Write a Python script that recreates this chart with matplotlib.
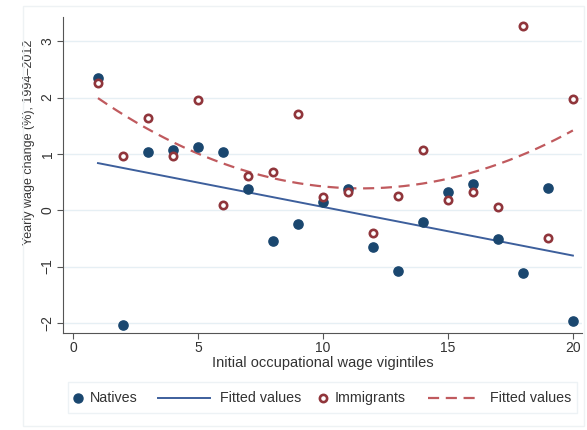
import numpy as np
import matplotlib
matplotlib.use("Agg")
import matplotlib.pyplot as plt
from matplotlib.lines import Line2D
from matplotlib.patches import Rectangle

plt.rcParams['font.family'] = ['Liberation Sans', 'DejaVu Sans']

# vigintiles and yearly wage change (%)
vigintile = np.arange(1, 21)
natives = [2.35, -2.04, 1.04, 1.07, 1.12, 1.03, 0.37, -0.55, -0.24, 0.14,
           0.37, -0.65, -1.08, -0.21, 0.32, 0.46, -0.51, -1.12, 0.40, -1.97]
immigrants = [2.26, 0.97, 1.64, 0.97, 1.96, 0.09, 0.60, 0.67, 1.70, 0.23,
              0.33, -0.41, 0.25, 1.07, 0.18, 0.33, 0.05, 3.27, -0.50, 1.97]
legend_labels = ['Natives', 'Fitted values', 'Immigrants', 'Fitted values']

navy = '#1a476f'
maroon = '#90353b'
navy_line = '#3d5f9c'
maroon_line = '#c05a5e'
txt = '#333333'

# fitted values (linear for natives, quadratic for immigrants)
xs = np.linspace(1, 20, 200)
fit_nat = np.polyval(np.polyfit(vigintile, natives, 1), xs)
fit_imm = np.polyval(np.polyfit(vigintile, immigrants, 2), xs)

fig = plt.figure(figsize=(5.87, 4.30), dpi=100)
fig.patches.append(Rectangle((0.04, 0.01), 0.955, 0.975, transform=fig.transFigure,
                             fill=False, edgecolor='#eef2f4', lw=1))
ax = fig.add_axes([0.1073, 0.2256, 0.884, 0.735])

ax.plot(xs, fit_nat, color=navy_line, lw=1.4, zorder=2)
ax.plot(xs, fit_imm, color=maroon_line, lw=1.6, dashes=(5, 3), zorder=2)
ax.scatter(vigintile, natives, s=44, color=navy, zorder=3)
ax.scatter(vigintile, immigrants, s=28, facecolor='white', edgecolor=maroon,
           linewidth=1.9, zorder=4)

ax.set_xlim(-0.4, 20.36)
ax.set_ylim(-2.18, 3.43)
ax.set_xticks([0, 5, 10, 15, 20])
ax.set_yticks([-2, -1, 0, 1, 2, 3])
ax.set_yticklabels(['\u22122', '\u22121', '0', '1', '2', '3'], rotation=90, va='center')
ax.tick_params(labelsize=10, color='#555555', length=4, labelcolor=txt, pad=2)
ax.grid(axis='y', color='#e6eff4', lw=1)
ax.set_axisbelow(True)
for s in ['top', 'right']:
    ax.spines[s].set_visible(False)
for s in ['left', 'bottom']:
    ax.spines[s].set_color('#555555')
ax.set_xlabel('Initial occupational wage vigintiles', fontsize=10.5, color=txt)
ax.xaxis.set_label_coords(0.5, -0.072)
ax.set_ylabel('Yearly wage change (%), 1994\u20132012', fontsize=9, color=txt)
ax.yaxis.set_label_coords(-0.054, 0.604)

# legend drawn by hand, Stata style (markers sit next to their text)
fig.patches.append(Rectangle((0.1158, 0.0395), 0.867, 0.072, transform=fig.transFigure,
                             fill=False, edgecolor='#edf2f5', lw=1))
ly = 0.0744
fig.add_artist(Line2D([0.1329], [ly], transform=fig.transFigure, ls='none',
                      marker='o', ms=6.5, color=navy))
fig.add_artist(Line2D([0.2692, 0.3578], [ly, ly], transform=fig.transFigure,
                      color=navy_line, lw=1.4))
fig.add_artist(Line2D([0.5503], [ly], transform=fig.transFigure, ls='none',
                      marker='o', ms=5.2, mfc='white', mec=maroon, mew=1.9))
fig.add_artist(Line2D([0.7291, 0.8177], [ly, ly], transform=fig.transFigure,
                      color=maroon_line, lw=1.6, dashes=(5, 3)))
for x0, lab in zip([0.1533, 0.3748, 0.5707, 0.8348], legend_labels):
    fig.text(x0, ly, lab, fontsize=10.3, color=txt, va='center', ha='left')

fig.savefig('out.png', dpi=100)
